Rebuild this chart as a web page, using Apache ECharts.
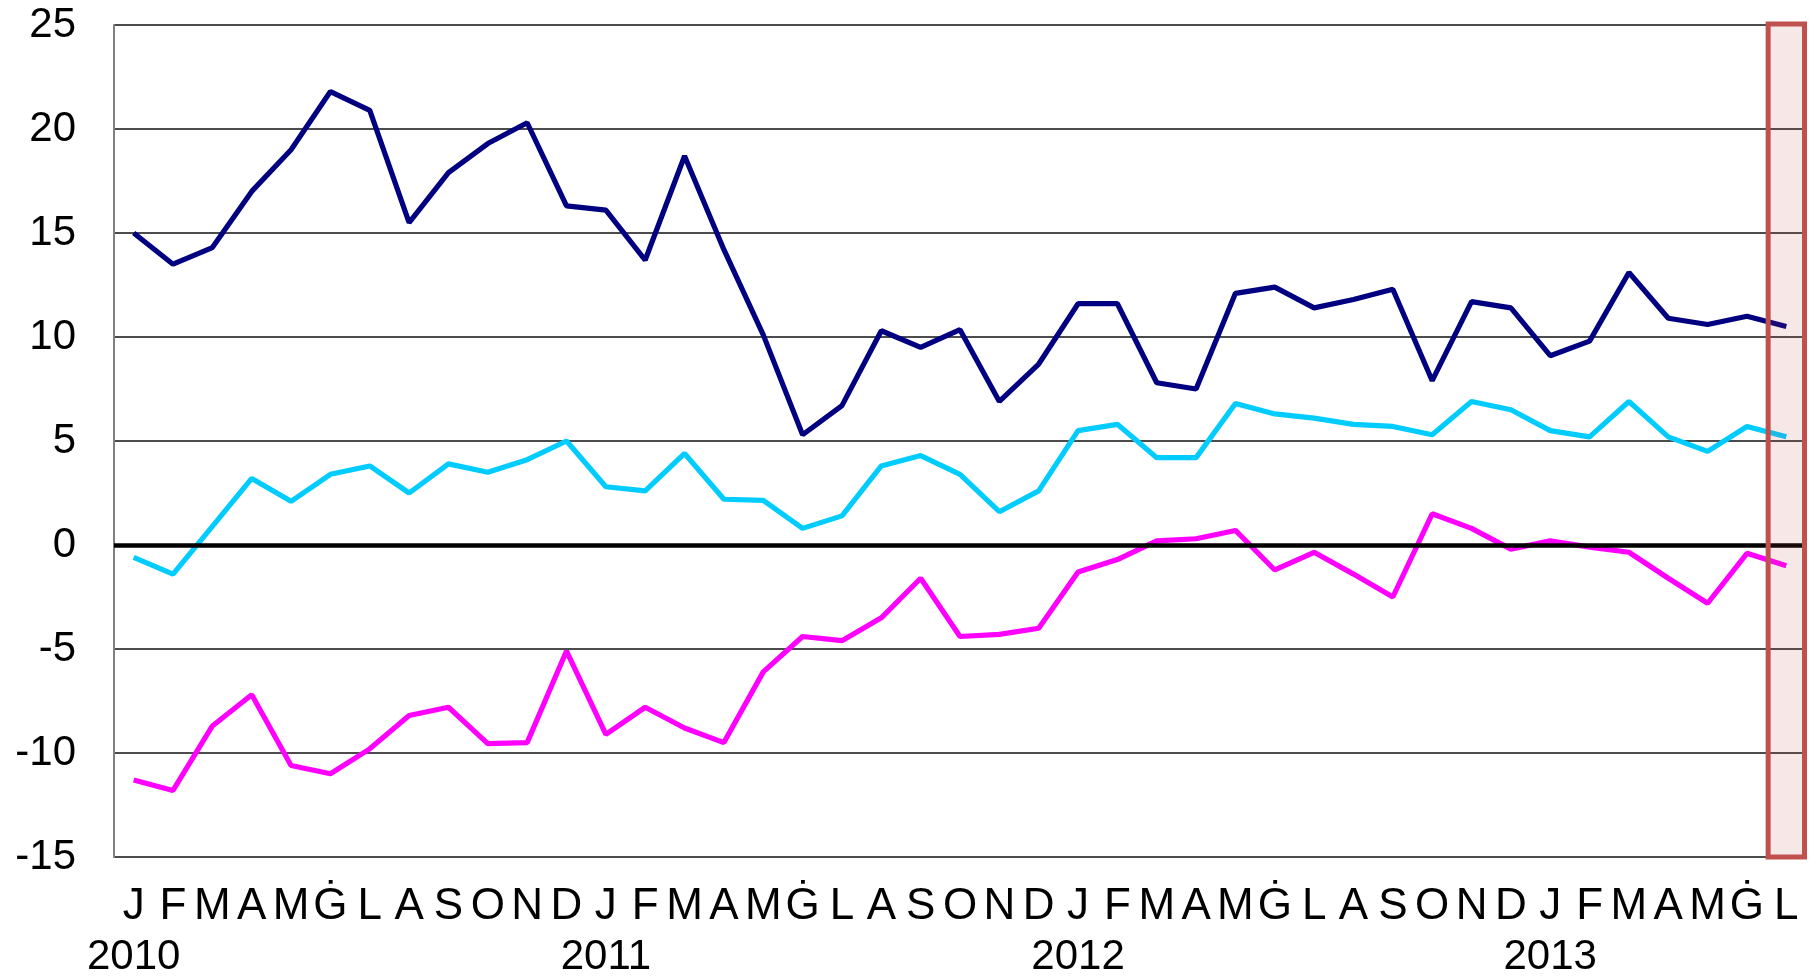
<!DOCTYPE html>
<html>
<head>
<meta charset="utf-8">
<style>
  html, body { margin: 0; padding: 0; background: #fff; }
  #chart { width: 1818px; height: 978px; }
</style>
<script src="https://cdn.jsdelivr.net/npm/echarts@6/dist/echarts.min.js"></script>
</head>
<body>
<div id="chart"></div>
<script>
const years = [2010, 2011, 2012, 2013]
const monthLetters = ['J', 'F', 'M', 'A', 'M', 'Ġ', 'L', 'A', 'S', 'O', 'N', 'D']
const monthCount = 43 // Jan 2010 .. Jul 2013

const navySeries = [
  15.0, 13.5, 14.3, 17.0, 19.0, 21.8, 20.9, 15.5, 17.9, 19.3, 20.3, 16.3,
  16.1, 13.7, 18.7, 14.2, 10.1, 5.3, 6.7, 10.3, 9.5, 10.35, 6.9, 8.7,
  11.6, 11.6, 7.8, 7.5, 12.1, 12.4, 11.4, 11.8, 12.3, 7.9, 11.7, 11.4,
  9.1, 9.8, 13.1, 10.9, 10.6, 11.0, 10.5
]
const cyanSeries = [
  -0.6, -1.4, 0.9, 3.2, 2.1, 3.4, 3.8, 2.5, 3.9, 3.5, 4.1, 5.0,
  2.8, 2.6, 4.4, 2.2, 2.15, 0.8, 1.4, 3.8, 4.3, 3.4, 1.6, 2.6,
  5.5, 5.8, 4.2, 4.2, 6.8, 6.3, 6.1, 5.8, 5.7, 5.3, 6.9, 6.5,
  5.5, 5.2, 6.9, 5.2, 4.5, 5.7, 5.2
]
const magentaSeries = [
  -11.3, -11.8, -8.7, -7.2, -10.6, -11.0, -9.8, -8.2, -7.8, -9.55, -9.5, -5.1,
  -9.1, -7.8, -8.8, -9.5, -6.1, -4.4, -4.6, -3.5, -1.6, -4.4, -4.3, -4.0,
  -1.3, -0.7, 0.2, 0.3, 0.7, -1.2, -0.35, -1.4, -2.5, 1.5, 0.8, -0.2,
  0.2, -0.1, -0.35, -1.6, -2.8, -0.4, -1.0
]
const yMin = -15
const yMax = 25

// category keys like 2010-0 .. 2013-6
const categories = []
for (let i = 0; i < monthCount; i++) {
  categories.push(years[Math.floor(i / 12)] + '-' + (i % 12))
}
// latest month is boxed in red
const highlightBox = [[categories[categories.length - 1], yMax, yMin]]

const chart = echarts.init(document.getElementById('chart'))
const font = '"Liberation Sans", Arial, sans-serif'

function lineSeries(data, color) {
  return {
    type: 'line',
    data: data,
    symbol: 'none',
    z: 3,
    lineStyle: { color: color, width: 5.2 },
    itemStyle: { color: color },
    silent: true,
  }
}

chart.setOption({
  animation: false,
  backgroundColor: '#fff',
  grid: { left: 114, right: 12, top: 25, bottom: 119 },
  xAxis: {
    type: 'category',
    data: categories,
    boundaryGap: true,
    axisLine: { show: false },
    axisTick: { show: false },
    axisLabel: {
      interval: 0,
      margin: 25,
      fontFamily: font,
      formatter: (val) => {
        const [y, m] = val.split('-')
        const letter = monthLetters[+m]
        return +m === 0 ? '{m|' + letter + '}\n{y|' + y + '}' : '{m|' + letter + '}'
      },
      rich: {
        m: { fontSize: 44, color: '#000', fontFamily: font, lineHeight: 50 },
        y: { fontSize: 42, color: '#000', fontFamily: font, lineHeight: 50 },
      },
    },
    splitLine: { show: false },
  },
  yAxis: {
    type: 'value',
    min: yMin,
    max: yMax,
    interval: 5,
    axisLine: { show: true, lineStyle: { color: '#808080', width: 2 } },
    axisTick: { show: false },
    axisLabel: { color: '#000', fontSize: 42, fontFamily: font, margin: 38 },
    splitLine: { show: true, lineStyle: { color: '#111', width: 1.5 } },
  },
  series: [
    Object.assign(lineSeries(navySeries, '#000080'), {
      markLine: {
        silent: true,
        symbol: 'none',
        label: { show: false },
        lineStyle: { color: '#000', width: 4.5, type: 'solid' },
        data: [{ yAxis: 0 }],
      },
    }),
    lineSeries(cyanSeries, '#00CCFF'),
    lineSeries(magentaSeries, '#FF00FF'),
    {
      type: 'custom',
      silent: true,
      z: 10,
      data: highlightBox,
      renderItem: (params, api) => {
        const top = api.coord([api.value(0), api.value(1)])
        const bottom = api.coord([api.value(0), api.value(2)])
        const w = api.size([1, 0])[0] - 3
        return {
          type: 'rect',
          shape: { x: top[0] - w / 2, y: top[1] - 1, width: w, height: bottom[1] - top[1] + 1 },
          style: { fill: 'rgba(192,80,77,0.13)', stroke: '#C0504D', lineWidth: 5 },
        }
      },
    },
  ],
})
</script>
</body>
</html>
